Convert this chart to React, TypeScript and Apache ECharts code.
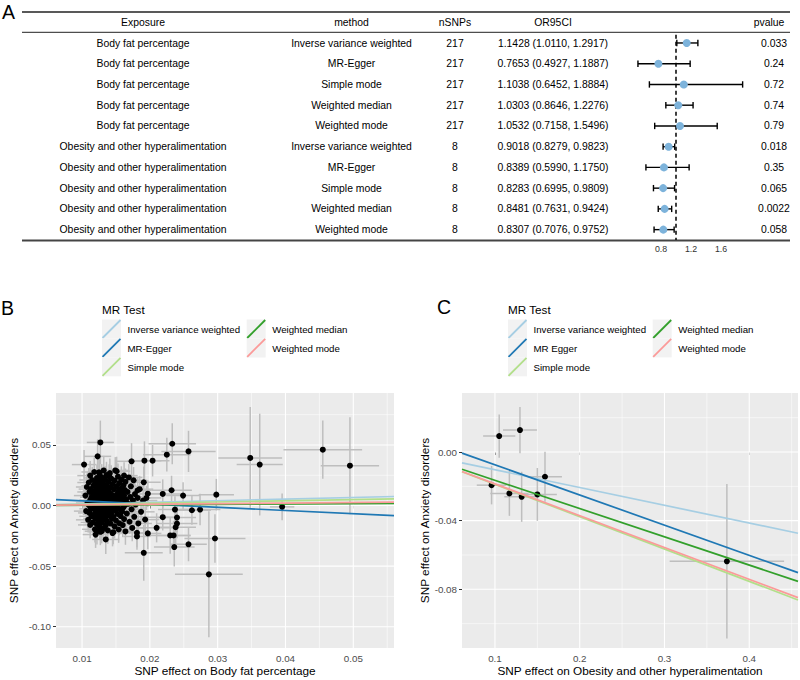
import React, { useEffect, useRef } from "react";
import * as echarts from "echarts";

const FONT = "'Liberation Sans', Arial, Helvetica, sans-serif";

// ---------- Panel A: table + forest ----------
const exposures = [
  "Body fat percentage", "Body fat percentage", "Body fat percentage", "Body fat percentage", "Body fat percentage",
  "Obesity and other hyperalimentation", "Obesity and other hyperalimentation", "Obesity and other hyperalimentation",
  "Obesity and other hyperalimentation", "Obesity and other hyperalimentation",
];
const tableMethods = [
  "Inverse variance weighted", "MR-Egger", "Simple mode", "Weighted median", "Weighted mode",
  "Inverse variance weighted", "MR-Egger", "Simple mode", "Weighted median", "Weighted mode",
];
const nSNPs = ["217", "217", "217", "217", "217", "8", "8", "8", "8", "8"];
const orValues = [1.1428, 0.7653, 1.1038, 1.0303, 1.0532, 0.9018, 0.8389, 0.8283, 0.8481, 0.8307];
const ciLower = [1.011, 0.4927, 0.6452, 0.8646, 0.7158, 0.8279, 0.599, 0.6995, 0.7631, 0.7076];
const ciUpper = [1.2917, 1.1887, 1.8884, 1.2276, 1.5496, 0.9823, 1.175, 0.9809, 0.9424, 0.9752];
const pValues = ["0.033", "0.24", "0.72", "0.74", "0.79", "0.018", "0.35", "0.065", "0.0022", "0.058"];
const forestTicks = [0.8, 1.2, 1.6];
const headers = ["Exposure", "method", "nSNPs", "OR95CI", "pvalue"];

// ---------- MR methods / lines ----------
const mrNamesB = ["Inverse variance weighted", "MR-Egger", "Simple mode", "Weighted median", "Weighted mode"];
const mrNamesC = ["Inverse variance weighted", "MR Egger", "Simple mode", "Weighted median", "Weighted mode"];
const mrColors = ["#A6CEE3", "#1F78B4", "#B2DF8A", "#33A02C", "#FB9A99"];
const slopesB = [0.1335, -0.2675, 0.0988, 0.0298, 0.0518];
const interceptsB = [0, 0.0066, 0, 0, 0];
const slopesC = [-0.1034, -0.1757, -0.1884, -0.1647, -0.1855];
const interceptsC = [0, 0.0101, 0, 0, 0];

// ---------- Panel B SNPs: [beta exposure, beta outcome, se exposure, se outcome] ----------
const bodyFatSnps = [
  [0.0348, 0.0393, 0.0047, 0.042], [0.0362, 0.0338, 0.0034, 0.042], [0.0455, 0.0461, 0.0058, 0.024],
  [0.0495, 0.0329, 0.0043, 0.04], [0.0395, -0.0011, 0.0018, 0.011], [0.0298, 0.009, 0.0026, 0.013],
  [0.0287, -0.0568, 0.005, 0.052], [0.0296, -0.0272, 0.0045, 0.02], [0.0257, -0.032, 0.0027, 0.014],
  [0.0236, -0.0343, 0.003, 0.016], [0.0191, -0.039, 0.0028, 0.023], [0.023, -0.0247, 0.003, 0.015],
  [0.0235, -0.0247, 0.0025, 0.012], [0.021, -0.0184, 0.0025, 0.012], [0.0197, -0.023, 0.002, 0.013],
  [0.0181, -0.0225, 0.002, 0.012], [0.0181, -0.0255, 0.002, 0.011], [0.0135, -0.028, 0.002, 0.012],
  [0.0146, -0.022, 0.002, 0.01], [0.0129, -0.0212, 0.0018, 0.01], [0.0122, -0.0212, 0.0018, 0.011],
  [0.0238, -0.0179, 0.003, 0.014], [0.024, -0.0149, 0.003, 0.012], [0.0127, 0.0521, 0.002, 0.018],
  [0.0123, 0.0406, 0.002, 0.014], [0.0103, 0.0338, 0.0018, 0.012], [0.0173, 0.0365, 0.0022, 0.015],
  [0.0192, 0.037, 0.0025, 0.016], [0.0204, 0.037, 0.0025, 0.013], [0.0233, 0.051, 0.0035, 0.017],
  [0.0257, 0.0447, 0.004, 0.017], [0.0225, 0.042, 0.0035, 0.014], [0.0232, 0.0126, 0.003, 0.012],
  [0.0249, 0.0082, 0.0025, 0.011], [0.0219, 0.0096, 0.0028, 0.012], [0.0191, 0.0192, 0.0025, 0.013],
  [0.0182, 0.0126, 0.002, 0.011], [0.0151, 0.0283, 0.002, 0.012], [0.0149, 0.029, 0.002, 0.011],
  [0.014, 0.0241, 0.002, 0.01], [0.0162, 0.0247, 0.002, 0.011], [0.0125, 0.0274, 0.0018, 0.011],
  [0.0195, 0.0063, 0.0022, 0.01], [0.0182, 0.0063, 0.002, 0.01], [0.0219, -0.0096, 0.0025, 0.011],
  [0.024, -0.0099, 0.0028, 0.012], [0.0262, -0.0039, 0.0028, 0.012], [0.0274, -0.0033, 0.003, 0.013],
  [0.0237, -0.0033, 0.0025, 0.011],
  [0.0105, 0.0082, 0.0017, 0.01], [0.0106, -0.0046, 0.0018, 0.009], [0.0107, 0.0153, 0.0016, 0.011],
  [0.0108, 0.0021, 0.0017, 0.008], [0.0109, -0.0118, 0.0018, 0.01], [0.011, 0.019, 0.0017, 0.012],
  [0.011, 0.0004, 0.0016, 0.008], [0.0111, -0.0061, 0.0017, 0.009], [0.0111, 0.0112, 0.0018, 0.01],
  [0.0112, -0.016, 0.0018, 0.011], [0.0112, 0.0045, 0.0016, 0.009], [0.0112, 0.0247, 0.0019, 0.012],
  [0.0113, -0.0027, 0.0017, 0.008], [0.0113, 0.0136, 0.0018, 0.01], [0.0114, 0.0069, 0.0017, 0.009],
  [0.0114, -0.0089, 0.0018, 0.009], [0.0115, 0.0018, 0.0016, 0.008], [0.0115, 0.0211, 0.0019, 0.011],
  [0.0116, -0.0139, 0.0018, 0.01], [0.0116, 0.0098, 0.0017, 0.009], [0.0117, -0.0011, 0.0017, 0.008],
  [0.0117, 0.0165, 0.0018, 0.01], [0.0118, 0.0037, 0.0016, 0.008], [0.0118, -0.0072, 0.0017, 0.009],
  [0.0118, 0.0277, 0.0019, 0.012], [0.0119, -0.0196, 0.0019, 0.011], [0.0119, 0.0121, 0.0018, 0.01],
  [0.0119, -0.0035, 0.0017, 0.008], [0.012, 0.0056, 0.0017, 0.008], [0.012, 0.0193, 0.0018, 0.01],
  [0.012, -0.0108, 0.0018, 0.009], [0.012, 0.0006, 0.0016, 0.008], [0.012, -0.024, 0.0019, 0.011],
  [0.012, 0.0082, 0.0017, 0.009],
  [0.0121, -0.0052, 0.0017, 0.008], [0.0121, 0.0148, 0.0018, 0.01], [0.0122, 0.0024, 0.0016, 0.008],
  [0.0122, -0.0156, 0.0018, 0.01], [0.0122, 0.0228, 0.0019, 0.011], [0.0123, -0.0019, 0.0017, 0.008],
  [0.0123, 0.0103, 0.0017, 0.009], [0.0123, -0.0087, 0.0018, 0.009], [0.0124, 0.0047, 0.0016, 0.008],
  [0.0124, 0.0172, 0.0018, 0.01], [0.0124, -0.0125, 0.0018, 0.009], [0.0125, 0.0009, 0.0016, 0.008],
  [0.0125, -0.0041, 0.0017, 0.008], [0.0125, 0.0127, 0.0018, 0.009], [0.0126, 0.0261, 0.0019, 0.012],
  [0.0126, -0.0178, 0.0019, 0.01], [0.0126, 0.0066, 0.0017, 0.008], [0.0127, -0.0066, 0.0017, 0.009],
  [0.0127, 0.0031, 0.0016, 0.008], [0.0127, 0.0205, 0.0018, 0.01], [0.0127, -0.0217, 0.0019, 0.011],
  [0.0128, 0.0089, 0.0017, 0.009], [0.0128, -0.0103, 0.0018, 0.009], [0.0128, 0.0014, 0.0016, 0.008],
  [0.0128, 0.0156, 0.0018, 0.01], [0.0128, -0.0029, 0.0017, 0.008],
  [0.0129, 0.0052, 0.0017, 0.008], [0.0129, -0.0142, 0.0018, 0.01], [0.0129, 0.0232, 0.0019, 0.011],
  [0.013, -0.0008, 0.0016, 0.008], [0.013, 0.0118, 0.0018, 0.009], [0.013, -0.0075, 0.0017, 0.009],
  [0.0131, 0.0038, 0.0017, 0.008], [0.0131, 0.0184, 0.0018, 0.01], [0.0131, -0.0189, 0.0019, 0.01],
  [0.0132, -0.0044, 0.0017, 0.008], [0.0132, 0.0076, 0.0017, 0.009], [0.0132, 0.029, 0.002, 0.012],
  [0.0133, 0.0003, 0.0016, 0.008], [0.0133, -0.0118, 0.0018, 0.009], [0.0133, 0.0141, 0.0018, 0.01],
  [0.0134, 0.0059, 0.0017, 0.008], [0.0134, -0.0058, 0.0017, 0.009], [0.0134, 0.0215, 0.0019, 0.011],
  [0.0135, -0.0022, 0.0017, 0.008], [0.0135, 0.0097, 0.0017, 0.009], [0.0135, -0.0163, 0.0018, 0.01],
  [0.0136, 0.0027, 0.0016, 0.008], [0.0136, 0.0169, 0.0018, 0.01], [0.0136, -0.0091, 0.0018, 0.009],
  [0.0136, 0.0251, 0.0019, 0.011], [0.0136, -0.0012, 0.0017, 0.008],
  [0.0137, 0.0071, 0.0017, 0.009], [0.0137, -0.0131, 0.0018, 0.01], [0.0138, 0.0016, 0.0017, 0.008],
  [0.0138, 0.0128, 0.0018, 0.009], [0.0138, -0.0205, 0.0019, 0.011], [0.0139, -0.0049, 0.0017, 0.008],
  [0.0139, 0.0195, 0.0019, 0.01], [0.014, 0.0042, 0.0017, 0.008], [0.014, -0.0081, 0.0018, 0.009],
  [0.014, 0.0109, 0.0018, 0.009], [0.0141, -0.0017, 0.0017, 0.008], [0.0141, 0.0268, 0.002, 0.012],
  [0.0142, 0.0063, 0.0017, 0.009], [0.0142, -0.0149, 0.0018, 0.01], [0.0142, 0.0151, 0.0018, 0.01],
  [0.0143, 0.0008, 0.0017, 0.008], [0.0143, -0.0064, 0.0018, 0.009], [0.0143, 0.0223, 0.0019, 0.011],
  [0.0144, 0.0088, 0.0018, 0.009], [0.0144, -0.0109, 0.0018, 0.009], [0.0144, 0.0033, 0.0017, 0.008],
  [0.0145, -0.0032, 0.0017, 0.008], [0.0145, 0.0176, 0.0018, 0.01], [0.0145, -0.0227, 0.0019, 0.011],
  [0.0146, 0.0051, 0.0017, 0.009], [0.0146, -0.0094, 0.0018, 0.009], [0.0147, 0.0132, 0.0018, 0.01],
  [0.0147, 0.0012, 0.0017, 0.008], [0.0148, -0.0172, 0.0019, 0.01], [0.0148, 0.0206, 0.0019, 0.011],
  [0.0149, -0.0041, 0.0017, 0.008], [0.0149, 0.0079, 0.0018, 0.009], [0.015, 0.0027, 0.0017, 0.008],
  [0.015, -0.0123, 0.0018, 0.01], [0.0151, 0.0158, 0.0019, 0.01], [0.0151, -0.0013, 0.0017, 0.008],
  [0.0152, 0.0094, 0.0018, 0.009], [0.0152, -0.0069, 0.0018, 0.009], [0.0153, 0.0238, 0.002, 0.011],
  [0.0153, 0.0044, 0.0017, 0.008], [0.0154, -0.0198, 0.0019, 0.011], [0.0154, 0.0117, 0.0018, 0.009],
  [0.0155, -0.0028, 0.0017, 0.008], [0.0155, 0.0068, 0.0018, 0.009], [0.0155, 0.0185, 0.0019, 0.01],
  [0.0155, -0.0146, 0.0018, 0.01],
  [0.0156, 0.0019, 0.0017, 0.008], [0.0157, 0.0138, 0.0018, 0.01], [0.0157, -0.0087, 0.0018, 0.009],
  [0.0158, 0.0057, 0.0018, 0.009], [0.0158, 0.0214, 0.0019, 0.011], [0.0159, -0.0049, 0.0018, 0.009],
  [0.0159, 0.0101, 0.0018, 0.009], [0.016, -0.0161, 0.0019, 0.01], [0.016, 0.0035, 0.0017, 0.008],
  [0.0161, 0.0167, 0.0019, 0.01], [0.0161, -0.0015, 0.0017, 0.008], [0.0162, 0.0082, 0.0018, 0.009],
  [0.0162, -0.0112, 0.0018, 0.01], [0.0163, 0.0129, 0.0019, 0.01], [0.0163, 0.0003, 0.0017, 0.008],
  [0.0164, -0.0214, 0.002, 0.011], [0.0164, 0.0196, 0.0019, 0.011], [0.0165, 0.0049, 0.0018, 0.009],
  [0.0166, -0.0066, 0.0018, 0.009], [0.0167, 0.0112, 0.0019, 0.01], [0.0168, 0.0014, 0.0018, 0.009],
  [0.0169, 0.0232, 0.002, 0.011], [0.017, -0.0134, 0.0019, 0.01], [0.0171, 0.0071, 0.0018, 0.009],
  [0.0172, 0.0159, 0.0019, 0.01], [0.0173, -0.0031, 0.0018, 0.009], [0.0174, -0.0185, 0.002, 0.011],
  [0.0175, 0.0043, 0.0018, 0.009], [0.0176, 0.0208, 0.002, 0.011], [0.0177, -0.0093, 0.0019, 0.01],
  [0.0178, 0.0095, 0.0019, 0.01], [0.0179, 0.0008, 0.0018, 0.009],
  [0.0183, -0.0148, 0.002, 0.011], [0.0185, 0.0135, 0.002, 0.011], [0.0187, -0.0052, 0.002, 0.01],
  [0.019, 0.0041, 0.0021, 0.01], [0.0193, -0.0116, 0.0021, 0.011], [0.0197, 0.0098, 0.0022, 0.011],
];

// ---------- Panel C SNPs ----------
const obesityBx = [0.105, 0.1295, 0.159, 0.096, 0.117, 0.1315, 0.15, 0.3736];
const obesityBy = [0.0093, 0.0128, -0.0144, -0.0193, -0.0241, -0.0261, -0.0247, -0.0637];
const obesitySeX = [0.019, 0.02, 0.02, 0.0175, 0.0225, 0.0205, 0.023, 0.0675];
const obesitySeY = [0.0126, 0.0135, 0.0146, 0.0112, 0.0131, 0.0146, 0.0154, 0.045];

// ---------- Axes ----------
const bXRange = [0.00616, 0.056];
const bYRange = [-0.1176, 0.0929];
const bXTicks = [0.01, 0.02, 0.03, 0.04, 0.05];
const bXMinor = [0.015, 0.025, 0.035, 0.045, 0.055];
const bYTicks = [-0.1, -0.05, 0, 0.05];
const bYMinor = [-0.075, -0.025, 0.025, 0.075];
const cXRange = [0.0611, 0.4575];
const cYRange = [-0.1142, 0.0344];
const cXTicks = [0.1, 0.2, 0.3, 0.4];
const cXMinor = [0.15, 0.25, 0.35, 0.45];
const cYTicks = [-0.08, -0.04, 0];
const cYMinor = [-0.1, -0.06, -0.02, 0.02];

function valueAxis(gridIndex: number, range: number[], ticks: number[], digits: number, name: string, nameGap: number) {
  return {
    type: "value",
    gridIndex,
    min: range[0],
    max: range[1],
    splitLine: { show: false },
    axisLine: { show: false },
    axisTick: { show: true, length: 3, lineStyle: { color: "#333333", width: 1 }, customValues: ticks },
    axisLabel: {
      customValues: ticks,
      formatter: (v: number) => v.toFixed(digits),
      color: "#4D4D4D",
      fontSize: 9.8,
      fontFamily: FONT,
      margin: 5,
    },
    name,
    nameLocation: "middle",
    nameGap,
    nameTextStyle: { color: "#000000", fontSize: 11.8, fontFamily: FONT },
  };
}

function gridLineSeries(idx: number, values: number[], vertical: boolean, xr: number[], yr: number[], width: number) {
  return {
    type: "custom",
    xAxisIndex: idx,
    yAxisIndex: idx,
    z: 1,
    silent: true,
    clip: true,
    data: values.map((v) => (vertical ? [v, yr[0]] : [xr[0], v])),
    encode: { x: 0, y: 1 },
    renderItem: (_p: any, api: any) => {
      const v = vertical ? api.value(0) : api.value(1);
      const a = vertical ? api.coord([v, yr[0]]) : api.coord([xr[0], v]);
      const b = vertical ? api.coord([v, yr[1]]) : api.coord([xr[1], v]);
      return { type: "line", shape: { x1: a[0], y1: a[1], x2: b[0], y2: b[1] }, style: { stroke: "#FFFFFF", lineWidth: width } };
    },
  };
}

function errorBarSeries(idx: number, rows: number[][]) {
  return {
    type: "custom",
    xAxisIndex: idx,
    yAxisIndex: idx,
    z: 2,
    silent: true,
    clip: true,
    data: rows,
    encode: { x: 0, y: 1 },
    renderItem: (_p: any, api: any) => {
      const x = api.value(0), y = api.value(1), sx = api.value(2), sy = api.value(3);
      const h0 = api.coord([x - sx, y]), h1 = api.coord([x + sx, y]);
      const v0 = api.coord([x, y - sy]), v1 = api.coord([x, y + sy]);
      const st = { stroke: "#BEBEBE", lineWidth: 1.5 };
      return {
        type: "group",
        children: [
          { type: "line", shape: { x1: v0[0], y1: v0[1], x2: v1[0], y2: v1[1] }, style: st },
          { type: "line", shape: { x1: h0[0], y1: h0[1], x2: h1[0], y2: h1[1] }, style: st },
        ],
      };
    },
  };
}

function mrLineSeries(idx: number, names: string[], slopes: number[], intercepts: number[], xr: number[]) {
  return names.map((n, i) => ({
    type: "line",
    name: n,
    xAxisIndex: idx,
    yAxisIndex: idx,
    z: 4,
    silent: true,
    clip: true,
    symbol: "none",
    lineStyle: { color: mrColors[i], width: 1.7 },
    data: [
      [xr[0], intercepts[i] + slopes[i] * xr[0]],
      [xr[1], intercepts[i] + slopes[i] * xr[1]],
    ],
  }));
}

function pointSeries(idx: number, pts: number[][]) {
  return {
    type: "scatter",
    xAxisIndex: idx,
    yAxisIndex: idx,
    z: 3,
    silent: true,
    symbolSize: 6,
    itemStyle: { color: "#000000", opacity: 1 },
    data: pts,
  };
}

function legendGraphics(x0: number, names: string[]) {
  const els: any[] = [
    { type: "text", x: x0, y: 309, style: { text: "MR Test", fill: "#000", fontSize: 11.7, fontFamily: FONT, align: "left", verticalAlign: "middle", textAlign: "left", textVerticalAlign: "middle" } },
  ];
  names.forEach((n, i) => {
    const col = i < 3 ? 0 : 1;
    const row = i < 3 ? i : i - 3;
    const kx = x0 + col * 144.7;
    const ky = 319.5 + row * 18.9;
    els.push({ type: "rect", shape: { x: kx, y: ky, width: 19, height: 19 }, style: { fill: "#F2F2F2" } });
    els.push({ type: "line", shape: { x1: kx + 0.5, y1: ky + 18.5, x2: kx + 18.5, y2: ky + 0.5 }, style: { stroke: mrColors[i], lineWidth: 1.8 } });
    els.push({ type: "text", x: kx + 25.5, y: ky + 9.8, style: { text: n, fill: "#000", fontSize: 9.7, fontFamily: FONT, align: "left", verticalAlign: "middle", textAlign: "left", textVerticalAlign: "middle" } });
  });
  return els;
}

function tableGraphics() {
  const els: any[] = [];
  const colX = [143, 351.5, 455, 553, 774];
  const headerX = [143, 351.5, 455, 553, 769];
  const rowY = (i: number) => 43 + i * 20.72;
  const txt = (x: number, y: number, t: string) => ({
    type: "text", x, y,
    style: { text: t, fill: "#000", fontSize: 10.4, fontFamily: FONT, align: "center", verticalAlign: "middle", textAlign: "center", textVerticalAlign: "middle" },
  });
  headers.forEach((h, j) => els.push(txt(headerX[j], 22.5, h)));
  exposures.forEach((e, i) => {
    const ci = `${orValues[i].toFixed(4)} (${ciLower[i].toFixed(4)}, ${ciUpper[i].toFixed(4)})`;
    [e, tableMethods[i], nSNPs[i], ci, pValues[i]].forEach((t, j) => els.push(txt(colX[j], rowY(i), t)));
  });
  els.push({ type: "line", shape: { x1: 22, y1: 12, x2: 790, y2: 12 }, style: { stroke: "#222", lineWidth: 1.3 } });
  els.push({ type: "line", shape: { x1: 22, y1: 32.3, x2: 790, y2: 32.3 }, style: { stroke: "#222", lineWidth: 1 } });
  els.push({ type: "line", shape: { x1: 22, y1: 240.5, x2: 790, y2: 240.5 }, style: { stroke: "#444", lineWidth: 2.2 } });
  const letter = (x: number, y: number, t: string) => ({
    type: "text", x, y,
    style: { text: t, fill: "#000", fontSize: 19.5, fontFamily: FONT, align: "left", verticalAlign: "middle", textAlign: "left", textVerticalAlign: "middle" },
  });
  els.push(letter(2, 11.5, "A"));
  els.push(letter(1, 307.5, "B"));
  els.push(letter(437, 306.5, "C"));
  return els;
}

export default function App() {
  const ref = useRef<HTMLDivElement>(null);
  useEffect(() => {
    if (!ref.current) return;
    const chart = echarts.init(ref.current, null, { renderer: "svg" });
    const forestRows = orValues.map((v, i) => [v, i + 1, ciLower[i], ciUpper[i]]);
    const cRows = obesityBx.map((x, i) => [x, obesityBy[i], obesitySeX[i], obesitySeY[i]]);
    const option: any = {
      animation: false,
      textStyle: { fontFamily: FONT },
      grid: [
        { left: 631, width: 120, top: 32.6, height: 207.4, show: false },
        { left: 56, right: 406, top: 393, bottom: 32, show: true, backgroundColor: "#EBEBEB", borderWidth: 0 },
        { left: 462, right: 2, top: 393, bottom: 32, show: true, backgroundColor: "#EBEBEB", borderWidth: 0 },
      ],
      xAxis: [
        {
          type: "value", gridIndex: 0, min: 0.4, max: 2.0,
          splitLine: { show: false }, axisLine: { show: false }, axisTick: { show: false },
          axisLabel: { customValues: forestTicks, formatter: (v: number) => v.toFixed(1), color: "#333", fontSize: 8.8, fontFamily: FONT, margin: 4 },
        },
        valueAxis(1, bXRange, bXTicks, 2, "SNP effect on Body fat percentage", 17),
        valueAxis(2, cXRange, cXTicks, 1, "SNP effect on Obesity and other hyperalimentation", 17),
      ],
      yAxis: [
        { type: "value", gridIndex: 0, min: 0.5, max: 10.5, inverse: true, show: false },
        valueAxis(1, bYRange, bYTicks, 2, "SNP effect on Anxiety disorders", 36),
        valueAxis(2, cYRange, cYTicks, 2, "SNP effect on Anxiety disorders", 29),
      ],
      series: [
        // forest reference line
        {
          type: "custom", xAxisIndex: 0, yAxisIndex: 0, z: 2, silent: true,
          data: [[1, 1]], encode: { x: 0, y: 1 },
          renderItem: (_p: any, api: any) => {
            const a = api.coord([api.value(0), 0.6]);
            const b = api.coord([api.value(0), 10.5]);
            return { type: "line", shape: { x1: a[0], y1: a[1], x2: b[0], y2: b[1] }, style: { stroke: "#000", lineWidth: 1.5, lineDash: [4, 3] } };
          },
        },
        // forest CI bars
        {
          type: "custom", xAxisIndex: 0, yAxisIndex: 0, z: 3, silent: true,
          data: forestRows, encode: { x: 0, y: 1 },
          renderItem: (_p: any, api: any) => {
            const r = api.value(1);
            const a = api.coord([api.value(2), r]);
            const b = api.coord([api.value(3), r]);
            const st = { stroke: "#000", lineWidth: 1.4 };
            return {
              type: "group",
              children: [
                { type: "line", shape: { x1: a[0], y1: a[1], x2: b[0], y2: b[1] }, style: st },
                { type: "line", shape: { x1: a[0], y1: a[1] - 3.2, x2: a[0], y2: a[1] + 3.2 }, style: st },
                { type: "line", shape: { x1: b[0], y1: b[1] - 3.2, x2: b[0], y2: b[1] + 3.2 }, style: st },
              ],
            };
          },
        },
        {
          type: "scatter", xAxisIndex: 0, yAxisIndex: 0, z: 4, silent: true,
          symbolSize: 8, itemStyle: { color: "#7DB3DB", opacity: 1 },
          data: forestRows.map((r) => [r[0], r[1]]),
        },
        // Panel B
        gridLineSeries(1, bXMinor, true, bXRange, bYRange, 0.55),
        gridLineSeries(1, bYMinor, false, bXRange, bYRange, 0.55),
        gridLineSeries(1, bXTicks, true, bXRange, bYRange, 1.1),
        gridLineSeries(1, bYTicks, false, bXRange, bYRange, 1.1),
        errorBarSeries(1, bodyFatSnps),
        pointSeries(1, bodyFatSnps.map((r) => [r[0], r[1]])),
        ...mrLineSeries(1, mrNamesB, slopesB, interceptsB, bXRange),
        // Panel C
        gridLineSeries(2, cXMinor, true, cXRange, cYRange, 0.55),
        gridLineSeries(2, cYMinor, false, cXRange, cYRange, 0.55),
        gridLineSeries(2, cXTicks, true, cXRange, cYRange, 1.1),
        gridLineSeries(2, cYTicks, false, cXRange, cYRange, 1.1),
        errorBarSeries(2, cRows),
        pointSeries(2, cRows.map((r) => [r[0], r[1]])),
        ...mrLineSeries(2, mrNamesC, slopesC, interceptsC, cXRange),
      ],
      graphic: [...tableGraphics(), ...legendGraphics(102, mrNamesB), ...legendGraphics(508, mrNamesC)],
    };
    chart.setOption(option);
    return () => chart.dispose();
  }, []);
  return <div ref={ref} style={{ position: "absolute", left: 0, top: 0, width: 800, height: 680, background: "#fff" }} />;
}
